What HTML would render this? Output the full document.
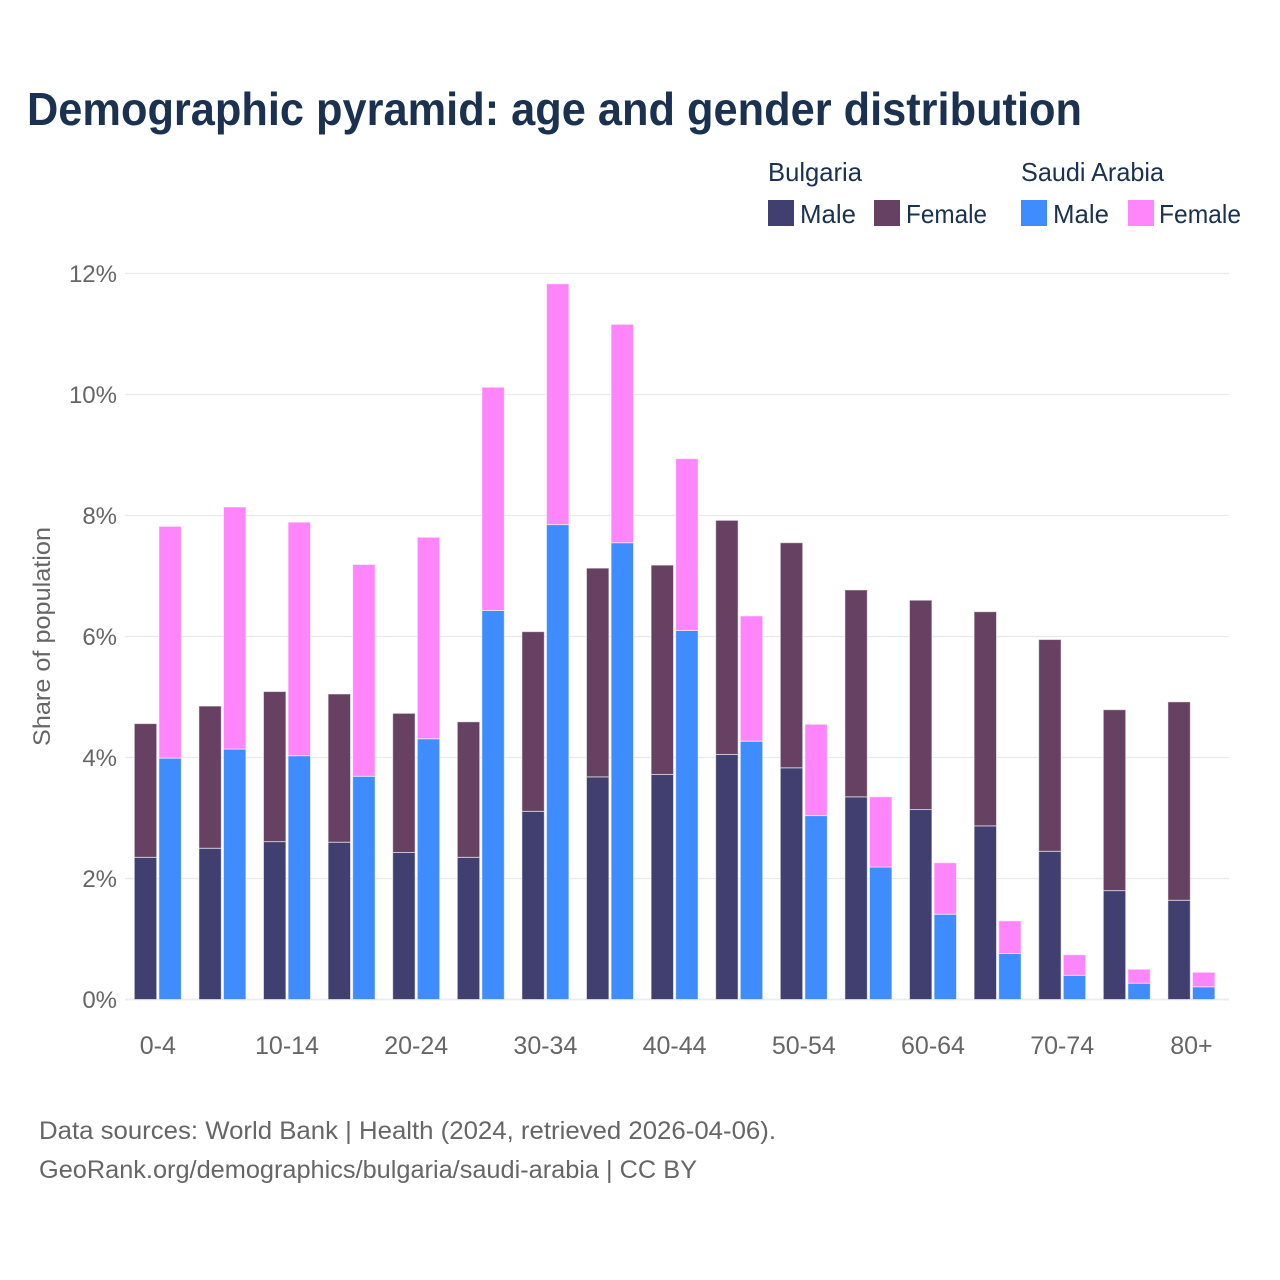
<!DOCTYPE html>
<html lang="en">
<head>
<meta charset="utf-8">
<title>Demographic pyramid: age and gender distribution</title>
<style>
html,body{margin:0;padding:0;background:#fff;}
svg{display:block;font-family:"Liberation Sans",sans-serif;}
</style>
</head>
<body>
<svg id="chart" xmlns="http://www.w3.org/2000/svg" width="1280" height="1280" viewBox="0 0 1280 1280">
  <rect x="0" y="0" width="1280" height="1280" fill="#ffffff"/>
  <text x="27" y="125" font-size="46" font-weight="700" fill="#1a3150" textLength="1055" lengthAdjust="spacingAndGlyphs">Demographic pyramid: age and gender distribution</text>

  <g font-size="26" fill="#1a3150">
    <text x="768" y="181" textLength="94" lengthAdjust="spacingAndGlyphs">Bulgaria</text>
    <text x="1021" y="181" textLength="143" lengthAdjust="spacingAndGlyphs">Saudi Arabia</text>
    <rect x="768" y="200" width="26" height="26" fill="#413f70"/>
    <text x="800" y="223" textLength="56" lengthAdjust="spacingAndGlyphs">Male</text>
    <rect x="874" y="200" width="26" height="26" fill="#674162"/>
    <text x="906" y="223" textLength="81" lengthAdjust="spacingAndGlyphs">Female</text>
    <rect x="1021" y="200" width="26" height="26" fill="#3f8cff"/>
    <text x="1053" y="223" textLength="56" lengthAdjust="spacingAndGlyphs">Male</text>
    <rect x="1128" y="200" width="26" height="26" fill="#ff85fa"/>
    <text x="1159" y="223" textLength="82" lengthAdjust="spacingAndGlyphs">Female</text>
  </g>

  <g id="grid"></g>
  <g id="yticks"></g>
  <g id="bars"></g>
  <g id="xticks"></g>

  <text transform="translate(50,636.5) rotate(-90)" text-anchor="middle" font-size="24" fill="#666666" textLength="219" lengthAdjust="spacingAndGlyphs">Share of population</text>

  <text x="39" y="1139" font-size="25" fill="#666666" textLength="737" lengthAdjust="spacingAndGlyphs">Data sources: World Bank | Health (2024, retrieved 2026-04-06).</text>
  <text x="39" y="1178" font-size="25" fill="#666666" textLength="658" lengthAdjust="spacingAndGlyphs">GeoRank.org/demographics/bulgaria/saudi-arabia | CC BY</text>
</svg>
<script>
const categories = ["0-4","5-9","10-14","15-19","20-24","25-29","30-34","35-39","40-44","45-49","50-54","55-59","60-64","65-69","70-74","75-79","80+"];
const xTickLabels = ["0-4","10-14","20-24","30-34","40-44","50-54","60-64","70-74","80+"];
const yTicks = [0,2,4,6,8,10,12];
const bulgariaMale = [2.35,2.50,2.61,2.60,2.43,2.35,3.11,3.68,3.72,4.05,3.83,3.35,3.14,2.87,2.45,1.80,1.64];
const bulgariaFemale = [2.21,2.35,2.48,2.45,2.30,2.24,2.97,3.45,3.46,3.87,3.72,3.42,3.46,3.54,3.50,2.99,3.28];
const saudiMale = [3.99,4.14,4.03,3.69,4.31,6.43,7.85,7.55,6.10,4.27,3.04,2.19,1.41,0.76,0.40,0.27,0.21];
const saudiFemale = [3.83,4.00,3.86,3.50,3.33,3.69,3.98,3.61,2.84,2.07,1.51,1.16,0.85,0.54,0.34,0.23,0.24];

const NS = "http://www.w3.org/2000/svg";
const plotLeft = 125, plotRight = 1229, baseY = 999.5, pxPerUnit = 60.5;
const firstCenter = 157.8, step = 64.6, barW = 22.4, barGap = 1.1;
function yScale(v){ return baseY - v * pxPerUnit; }
function xScale(i){ return firstCenter + i * step; }
function make(tag, attrs, parent){
  const el = document.createElementNS(NS, tag);
  for (const k in attrs) el.setAttribute(k, attrs[k]);
  parent.appendChild(el);
  return el;
}
const gridG = document.getElementById("grid");
const yG = document.getElementById("yticks");
const xG = document.getElementById("xticks");
const barsG = document.getElementById("bars");

yTicks.forEach(function(t){
  const line = make("line", {x1:plotLeft, x2:plotRight, y1:yScale(t), y2:yScale(t), stroke: t === 0 ? "#ececec" : "#e9e9e9", "stroke-width": t === 0 ? 2 : 1.2}, gridG);
  
  
  const label = make("text", {x:117, y:yScale(t)+8.5, "text-anchor":"end", "font-size":24, fill:"#666666"}, yG);
  label.textContent = t + "%";
  
  
});

categories.forEach(function(c, i){
  if (xTickLabels.indexOf(c) >= 0) {
    const label = make("text", {x:xScale(i), y:1054, "text-anchor":"middle", "font-size":25, fill:"#666666"}, xG);
    label.textContent = c;
    
    
  }
  const cx = xScale(i);
  const leftX = cx - barGap - barW;
  const rightX = cx + barGap;
  [
    {x:leftX, v:bulgariaMale[i], base:0, fill:"#413f70", name:"bar-bulgaria-male"},
    {x:leftX, v:bulgariaFemale[i], base:bulgariaMale[i], fill:"#674162", name:"bar-bulgaria-female"},
    {x:rightX, v:saudiMale[i], base:0, fill:"#3f8cff", name:"bar-saudi-male"},
    {x:rightX, v:saudiFemale[i], base:saudiMale[i], fill:"#ff85fa", name:"bar-saudi-female"}
  ].forEach(function(b){
    const top = yScale(b.base + b.v);
    const h = b.v * pxPerUnit;
    const r = make("rect", {x:b.x, y:top, width:barW, height:h, fill:b.fill, stroke:"#ffffff", "stroke-opacity":0.55, "stroke-width":1}, barsG);
    
    
  });
});
</script>
</body>
</html>
